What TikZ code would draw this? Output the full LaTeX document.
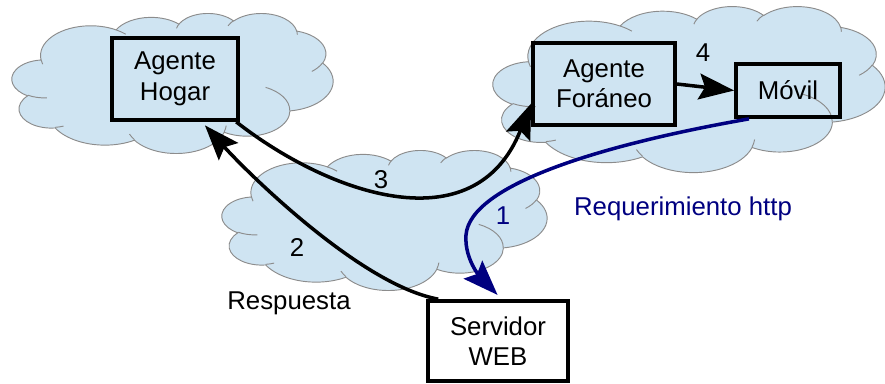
\documentclass[tikz,border=0pt]{standalone}
\usepackage{fontspec}
\setmainfont{Liberation Sans}
\usetikzlibrary{arrows.meta}
\definecolor{cloudfill}{HTML}{CFE4F2}
\definecolor{cloudline}{HTML}{8C8C8C}
\definecolor{reqblue}{HTML}{000080}
% elliptical arc with DrawingML-style (visual) angles: rx, ry, start, sweep
\newcommand\carc[4]{arc[x radius=#1, y radius=#2,
  start angle={atan2((#1)*sin(#3),(#2)*cos(#3))},
  delta angle={mod(atan2((#1)*sin((#3)+(#4)),(#2)*cos((#3)+(#4)))-atan2((#1)*sin(#3),(#2)*cos(#3))+720,360)}]}
\begin{document}
\begin{tikzpicture}[x=0.03cm,y=-0.03cm,
  every node/.style={font=\fontsize{22}{26}\selectfont},
  cloudbg/.style={fill=cloudfill, draw=cloudline, line width=0.8pt},
  innerarc/.style={draw=cloudline, line width=0.8pt},
  agentbox/.style={draw, line width=3.2pt, align=center, inner sep=0pt},
  conn/.style={line width=3pt, -{Stealth[length=30pt,width=22pt,inset=5pt]}},
  lbl/.style={inner sep=0pt},
  ooxcloud/.pic={
    \path[cloudbg] (39,143.7) \carc{67.53}{91.90}{-190.48748}{123.78053}
      \carc{53.33}{72.67}{-144.10238}{89.94523}
      \carc{43.65}{59.45}{-145.80792}{99.72302}
      \carc{48.57}{65.95}{-130.98607}{117.24173}
      \carc{53.33}{72.73}{-78.70888}{109.02692}
      \carc{67.75}{92.20}{-46.26725}{130.269}
      \carc{57.85}{78.67}{0.62502}{114.03333}
      \carc{67.52}{92.15}{22.4516}{115.17255}
      \carc{77.20}{105.43}{66.24263}{75.71102}
      \carc{43.60}{59.18}{-274.94208}{146.73557}
      \carc{43.45}{59.45}{-246.8285}{152.51885} -- cycle;
    \path[innerarc] (46.93,261.77) \carc{43.45}{59.45}{86.742}{26.4295};
    \path[innerarc] (69.28,348.99) \carc{43.60}{59.18}{73.61047}{11.44747};
    \path[innerarc] (164.78,390.90) \carc{67.52}{92.15}{137.62415}{14.0811};
    \path[innerarc] (288.27,347.51) \carc{67.52}{92.15}{6.45327}{15.99835};
    \path[innerarc] (341.29,229.54) \carc{57.85}{78.67}{-70.29235}{70.91737};
    \path[innerarc] (417.98,153.54) \carc{53.33}{72.73}{30.31803}{27.7515};
    \path[innerarc] (383.24,54.26) \carc{48.57}{65.95}{-13.74433}{14.86345};
    \path[innerarc] (290.78,39.52) \carc{48.57}{65.95}{-149.18145}{18.19537};
    \path[innerarc] (221.41,47.20) \carc{43.65}{59.45}{-163.49427}{17.68635};
    \path[innerarc] (140.00,51.92) \carc{67.53}{91.90}{-66.70695}{12.31935};
    \path[innerarc] (41.27,157.89) \carc{67.53}{91.90}{157.65435}{11.85817};
  }]
\useasboundingbox (0,0) rectangle (885,383);
% clouds
\pic[xscale=0.7431, yscale=0.3241] (cl) at (12,13) {ooxcloud};
\pic[xscale=0.9074, yscale=0.3843] (cr) at (493,6) {ooxcloud};
\pic[xscale=0.7523, yscale=0.3241] (cm) at (222,150) {ooxcloud};
% boxes
\node[agentbox, minimum width=3.78cm, minimum height=2.46cm] (hogar) at (175,79) {Agente\\Hogar};
\node[agentbox, minimum width=4.26cm, minimum height=2.46cm] (foraneo) at (604,84) {Agente\\Foráneo};
\node[agentbox, minimum width=3.12cm, minimum height=1.59cm] (movil) at (788,90.5) {Móvil};
\node[agentbox, minimum width=4.2cm, minimum height=2.4cm] (servidor) at (498,341) {Servidor\\WEB};
% connectors
\draw[conn] (foraneo.east) -- (movil.west);
\draw[conn] (hogar.-35) .. controls (330,195) and (475,245) .. (foraneo.195);
\draw[conn, shorten >=4pt] (servidor.145) .. controls (360,285) and (245,170) .. (hogar.-58);
\draw[conn, draw=reqblue, shorten >=5pt] (movil.216) .. controls (600,145) and (470,185) .. (466,235) .. controls (464,262) and (485,282) .. (servidor.85);
% labels
\node[lbl] (l4) at (703,53) {4};
\node[lbl] (l3) at (381,180) {3};
\node[lbl] (l2) at (297,247) {2};
\node[lbl, text=reqblue] (l1) at (503,216) {1};
\node[lbl, text=reqblue] (lreq) at (683,209) {Requerimiento http};
\node[lbl] (lresp) at (289,303) {Respuesta};
\end{tikzpicture}
\end{document}
